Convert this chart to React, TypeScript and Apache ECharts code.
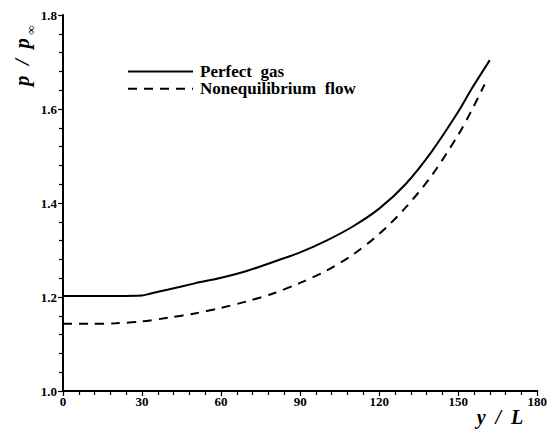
import React, { useEffect, useRef } from "react";
import * as echarts from "echarts";

const xTicks = [0, 30, 60, 90, 120, 150, 180];
const yTicks = [1.0, 1.2, 1.4, 1.6, 1.8];

const perfectX = [0, 10, 20, 30, 33, 40, 50, 60, 70, 80, 90, 100, 110, 120, 130, 140, 150, 155, 162];
const perfectY = [1.202, 1.202, 1.202, 1.203, 1.207, 1.216, 1.229, 1.241, 1.256, 1.275, 1.295, 1.32, 1.35, 1.388, 1.44, 1.51, 1.594, 1.642, 1.704];

const noneqX = [0, 10, 20, 30, 40, 50, 60, 70, 80, 90, 100, 110, 120, 130, 140, 150, 155, 160];
const noneqY = [1.143, 1.143, 1.144, 1.148, 1.156, 1.165, 1.177, 1.191, 1.208, 1.23, 1.256, 1.29, 1.334, 1.39, 1.459, 1.545, 1.596, 1.652];

const seriesNames = ["Perfect  gas", "Nonequilibrium  flow"];

const FONT = "Liberation Serif";

export default function App() {
  const ref = useRef<HTMLDivElement>(null);
  useEffect(() => {
    if (!ref.current) return;
    const chart = echarts.init(ref.current, undefined, { renderer: "svg" });
    const axisCommon = {
      axisLine: { show: true, onZero: false, lineStyle: { color: "#000", width: 2 } },
      axisTick: { show: true, inside: false, length: 5, lineStyle: { color: "#000", width: 1.2 } },
      minorTick: { show: true, splitNumber: 5, length: 4, lineStyle: { color: "#000", width: 1.2 } },
      splitLine: { show: false },
      minorSplitLine: { show: false },
    };
    chart.setOption({
      animation: false,
      backgroundColor: "#fff",
      textStyle: { fontFamily: FONT },
      grid: { left: 63, right: 12, top: 15, bottom: 38 },
      xAxis: {
        type: "value",
        min: xTicks[0],
        max: xTicks[xTicks.length - 1],
        interval: 30,
        ...axisCommon,
        axisLabel: {
          color: "#000",
          fontFamily: FONT,
          fontWeight: "bold",
          fontSize: 13,
          margin: 4,
          showMinLabel: true,
          showMaxLabel: true,
        },
      },
      yAxis: {
        type: "value",
        min: yTicks[0],
        max: yTicks[yTicks.length - 1],
        interval: 0.2,
        ...axisCommon,
        axisLabel: {
          color: "#000",
          fontFamily: FONT,
          fontWeight: "bold",
          fontSize: 13,
          margin: 6,
          formatter: (v: number) => v.toFixed(1),
        },
      },
      legend: {
        show: true,
        orient: "vertical",
        left: 127,
        top: 63,
        padding: 0,
        itemWidth: 65,
        itemHeight: 14,
        itemGap: 0.3,
        data: seriesNames,
        itemStyle: { opacity: 0 },
        textStyle: {
          color: "#000",
          fontFamily: FONT,
          fontWeight: "bold",
          fontSize: 17,
          lineHeight: 14,
          height: 14,
          padding: [0, 0, 0, 2],
        },
      },
      graphic: [
        {
          type: "text",
          x: 22,
          y: 62,
          rotation: Math.PI / 2,
          style: {
            text: "p  /  p",
            fontFamily: FONT,
            fontStyle: "italic",
            fontWeight: "bold",
            fontSize: 21,
            fill: "#000",
            textAlign: "center",
            textVerticalAlign: "middle",
          },
        },
        {
          type: "text",
          x: 30,
          y: 30,
          rotation: Math.PI / 2,
          style: {
            text: "∞",
            fontFamily: FONT,
            fontWeight: "bold",
            fontSize: 13,
            fill: "#000",
            textAlign: "center",
            textVerticalAlign: "middle",
          },
        },
        {
          type: "text",
          x: 500,
          y: 417,
          style: {
            text: "y  /  L",
            fontFamily: FONT,
            fontStyle: "italic",
            fontWeight: "bold",
            fontSize: 20,
            fill: "#000",
            textAlign: "center",
            textVerticalAlign: "middle",
          },
        },
      ],
      series: [
        {
          name: seriesNames[0],
          type: "line",
          data: perfectX.map((x, i) => [x, perfectY[i]]),
          symbol: "none",
          smooth: 0.3,
          lineStyle: { color: "#000", width: 2, type: "solid" },
          itemStyle: { color: "#000" },
        },
        {
          name: seriesNames[1],
          type: "line",
          data: noneqX.map((x, i) => [x, noneqY[i]]),
          symbol: "none",
          smooth: 0.3,
          lineStyle: { color: "#000", width: 2, type: [9, 7] },
          itemStyle: { color: "#000" },
        },
      ],
    });
    return () => chart.dispose();
  }, []);
  return <div ref={ref} style={{ width: 550, height: 429, position: "absolute", left: 0, top: 0 }} />;
}
